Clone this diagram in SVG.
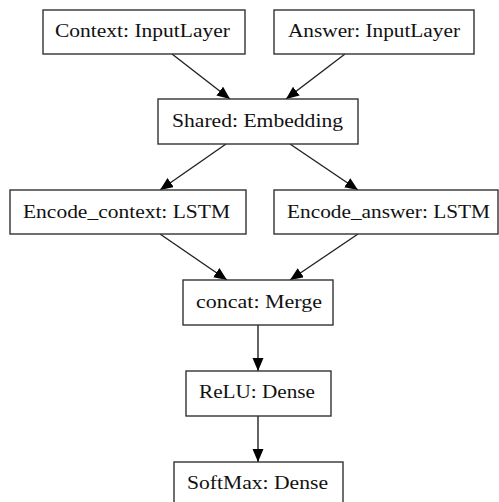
<svg xmlns="http://www.w3.org/2000/svg" width="499" height="502" viewBox="0 0 499 502">
<style>
.box{fill:#fff;stroke:#333;stroke-width:1.4}
.lbl{font-family:"Liberation Serif","Times New Roman",serif;font-size:18px;fill:#111}
.edge{stroke:#222;stroke-width:1.4;fill:none}
</style>
<defs>
<marker id="ah" markerUnits="userSpaceOnUse" markerWidth="14" markerHeight="12" refX="13" refY="5.5" orient="auto">
<path d="M0,0 L13,5.5 L0,11 z" fill="#000"/>
</marker>
</defs>
<rect width="499" height="502" fill="#fff"/>
<g id="connectors">
<line class="edge" x1="172" y1="54" x2="230" y2="99" marker-end="url(#ah)"/>
<line class="edge" x1="345" y1="54" x2="286" y2="99" marker-end="url(#ah)"/>
<line class="edge" x1="226" y1="144" x2="160" y2="190" marker-end="url(#ah)"/>
<line class="edge" x1="290" y1="144" x2="358" y2="190" marker-end="url(#ah)"/>
<line class="edge" x1="160" y1="234" x2="227" y2="280" marker-end="url(#ah)"/>
<line class="edge" x1="358" y1="234" x2="290" y2="280" marker-end="url(#ah)"/>
<line class="edge" x1="258" y1="325" x2="258" y2="371" marker-end="url(#ah)"/>
<line class="edge" x1="258" y1="416" x2="258" y2="462" marker-end="url(#ah)"/>
</g>
<g id="context">
<rect class="box" x="43" y="10" width="202" height="44"/>
<text class="lbl" x="55" y="37" textLength="175" lengthAdjust="spacingAndGlyphs">Context: InputLayer</text>
</g>
<g id="answer">
<rect class="box" x="274" y="10" width="200" height="44"/>
<text class="lbl" x="288" y="37" textLength="172" lengthAdjust="spacingAndGlyphs">Answer: InputLayer</text>
</g>
<g id="shared">
<rect class="box" x="158" y="99" width="200" height="45"/>
<text class="lbl" x="172" y="127" textLength="171" lengthAdjust="spacingAndGlyphs">Shared: Embedding</text>
</g>
<g id="encode_context">
<rect class="box" x="10" y="190" width="236" height="44"/>
<text class="lbl" x="23" y="218" textLength="207" lengthAdjust="spacingAndGlyphs">Encode_context: LSTM</text>
</g>
<g id="encode_answer">
<rect class="box" x="274" y="190" width="224" height="44"/>
<text class="lbl" x="287" y="218" textLength="203" lengthAdjust="spacingAndGlyphs">Encode_answer: LSTM</text>
</g>
<g id="concat">
<rect class="box" x="183" y="280" width="150" height="45"/>
<text class="lbl" x="196" y="308" textLength="126" lengthAdjust="spacingAndGlyphs">concat: Merge</text>
</g>
<g id="relu">
<rect class="box" x="186" y="371" width="145" height="45"/>
<text class="lbl" x="199" y="398" textLength="116" lengthAdjust="spacingAndGlyphs">ReLU: Dense</text>
</g>
<g id="softmax">
<rect class="box" x="174" y="462" width="169" height="46"/>
<text class="lbl" x="187" y="489" textLength="141" lengthAdjust="spacingAndGlyphs">SoftMax: Dense</text>
</g>
</svg>
